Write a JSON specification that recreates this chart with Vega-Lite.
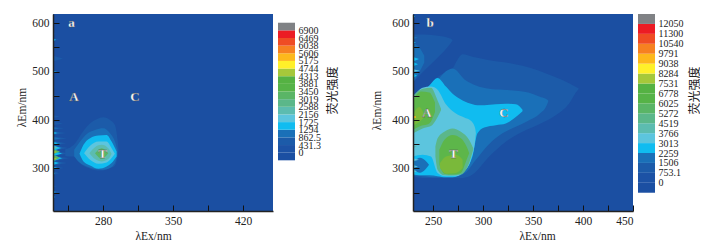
{
"$schema":"https://vega.github.io/schema/vega-lite/v6.json",
"background":"white",
"padding":{"left":16,"top":14,"right":0,"bottom":0},
"config":{"view":{"stroke":null},"axis":{"grid":false,"labelFont":"Liberation Serif","titleFont":"Liberation Serif","labelFontSize":11.5,"titleFontSize":11.5,"titleFontWeight":"normal","labelColor":"#222","titleColor":"#222"}},
"datasets":{
"cbar":[{"s":0,"s2":1,"l":0},{"s":1,"s2":2,"l":1},{"s":2,"s2":3,"l":2},{"s":3,"s2":4,"l":3},{"s":4,"s2":5,"l":4},{"s":5,"s2":6,"l":5},{"s":6,"s2":7,"l":6},{"s":7,"s2":8,"l":7},{"s":8,"s2":9,"l":8},{"s":9,"s2":10,"l":9},{"s":10,"s2":11,"l":10},{"s":11,"s2":12,"l":11},{"s":12,"s2":13,"l":12},{"s":13,"s2":14,"l":13},{"s":14,"s2":15,"l":14},{"s":15,"s2":16,"l":15},{"s":16,"s2":17,"l":16},{"s":17,"s2":18,"l":17}],
"a":[
{"g":"s1","l":2,"x":230,"y":563,"y2":569},{"g":"s1","l":2,"x":236,"y":566,"y2":566},
{"g":"s2","l":2,"x":230,"y":576,"y2":580},{"g":"s2","l":2,"x":233,"y":578,"y2":578},
{"g":"s3","l":2,"x":230,"y":521,"y2":533},{"g":"s3","l":2,"x":240,"y":527,"y2":527},
{"g":"s4","l":2,"x":230,"y":497,"y2":502},{"g":"s4","l":2,"x":236,"y":499,"y2":499},
{"g":"s5","l":2,"x":230,"y":448,"y2":452},{"g":"s5","l":2,"x":238,"y":450,"y2":450},
{"g":"s6","l":2,"x":230,"y":466,"y2":470},{"g":"s6","l":2,"x":233,"y":468,"y2":468},
{"g":"s7","l":2,"x":230,"y":404,"y2":410},{"g":"s7","l":2,"x":237,"y":407,"y2":407},
{"g":"s8","l":2,"x":230,"y":389,"y2":397},{"g":"s8","l":2,"x":240,"y":393,"y2":393},
{"g":"s9","l":2,"x":230,"y":380,"y2":386},{"g":"s9","l":2,"x":241,"y":383,"y2":383},
{"g":"s10","l":2,"x":230,"y":369,"y2":377},{"g":"s10","l":2,"x":243,"y":373,"y2":373},
{"g":"s11","l":2,"x":230,"y":358,"y2":366},{"g":"s11","l":2,"x":244,"y":362,"y2":362},
{"g":"s12","l":2,"x":230,"y":347,"y2":357},{"g":"s12","l":2,"x":243,"y":352,"y2":352},
{"g":"s13","l":2,"x":230,"y":336,"y2":348},{"g":"s13","l":2,"x":245,"y":342,"y2":342},
{"g":"s14","l":2,"x":230,"y":325,"y2":338},{"g":"s14","l":2,"x":245,"y":331,"y2":331},
{"g":"s15","l":2,"x":230,"y":315,"y2":327},{"g":"s15","l":2,"x":246,"y":321,"y2":321},
{"g":"s16","l":2,"x":230,"y":306,"y2":316},{"g":"s16","l":2,"x":244,"y":311,"y2":311},
{"g":"s17","l":2,"x":230,"y":297,"y2":305},{"g":"s17","l":2,"x":241,"y":301,"y2":301},
{"g":"s18","l":2,"x":230,"y":286,"y2":295},{"g":"s18","l":2,"x":236,"y":290,"y2":290},
{"g":"s19","l":2,"x":230,"y":261,"y2":265},{"g":"s19","l":2,"x":234,"y":263,"y2":263},
{"g":"s20","l":2,"x":230,"y":248,"y2":254},{"g":"s20","l":2,"x":238,"y":251,"y2":251},
{"g":"s21","l":2,"x":230,"y":239,"y2":243},{"g":"s21","l":2,"x":234,"y":241,"y2":241},
{"g":"t1","l":3,"x":230,"y":381,"y2":385},{"g":"t1","l":3,"x":236,"y":383,"y2":383},
{"g":"t2","l":3,"x":230,"y":370,"y2":376},{"g":"t2","l":3,"x":237,"y":373,"y2":373},
{"g":"t3","l":3,"x":230,"y":359,"y2":365},{"g":"t3","l":3,"x":238,"y":362,"y2":362},
{"g":"t4","l":3,"x":230,"y":349,"y2":355},{"g":"t4","l":3,"x":239,"y":352,"y2":352},
{"g":"t5","l":3,"x":230,"y":338,"y2":346},{"g":"t5","l":3,"x":240,"y":342,"y2":342},
{"g":"t6","l":3,"x":230,"y":327,"y2":335},{"g":"t6","l":3,"x":241,"y":331,"y2":331},
{"g":"t7","l":3,"x":230,"y":317,"y2":325},{"g":"t7","l":3,"x":241,"y":321,"y2":321},
{"g":"t8","l":3,"x":230,"y":308,"y2":314},{"g":"t8","l":3,"x":239,"y":311,"y2":311},
{"g":"t9","l":3,"x":230,"y":298,"y2":304},{"g":"t9","l":3,"x":235,"y":301,"y2":301},
{"g":"u1","l":4,"x":230,"y":562,"y2":569},{"g":"u1","l":4,"x":233,"y":566,"y2":566},
{"g":"u2","l":4,"x":230,"y":497,"y2":501},{"g":"u2","l":4,"x":234,"y":499,"y2":499},
{"g":"u3","l":4,"x":230,"y":370,"y2":376},{"g":"u3","l":4,"x":234,"y":373,"y2":373},
{"g":"u4","l":4,"x":230,"y":349,"y2":355},{"g":"u4","l":4,"x":235,"y":352,"y2":352},
{"g":"u5","l":4,"x":230,"y":336,"y2":348},{"g":"u5","l":4,"x":238,"y":342,"y2":342},
{"g":"u6","l":4,"x":230,"y":325,"y2":337},{"g":"u6","l":4,"x":239,"y":331,"y2":331},
{"g":"u7","l":4,"x":230,"y":315,"y2":327},{"g":"u7","l":4,"x":239,"y":321,"y2":321},
{"g":"u8","l":4,"x":230,"y":307,"y2":315},{"g":"u8","l":4,"x":236,"y":311,"y2":311},
{"g":"u9","l":4,"x":230,"y":298,"y2":304},{"g":"u9","l":4,"x":234,"y":301,"y2":301},
{"g":"u10","l":4,"x":230,"y":288,"y2":292},{"g":"u10","l":4,"x":232,"y":290,"y2":290},
{"g":"u11","l":4,"x":230,"y":249,"y2":253},{"g":"u11","l":4,"x":233,"y":251,"y2":251},
{"g":"u12","l":4,"x":230,"y":239,"y2":243},{"g":"u12","l":4,"x":232,"y":241,"y2":241},
{"g":"v1","l":6,"x":230,"y":339,"y2":347},{"g":"v1","l":6,"x":235,"y":343,"y2":343},
{"g":"v2","l":8,"x":230,"y":329,"y2":340},{"g":"v2","l":8,"x":237,"y":335,"y2":335},
{"g":"v3","l":8,"x":230,"y":315,"y2":328},{"g":"v3","l":8,"x":237,"y":322,"y2":322},
{"g":"v4","l":11,"x":230,"y":331,"y2":337},{"g":"v4","l":11,"x":234,"y":334,"y2":334},
{"g":"v5","l":11,"x":230,"y":317,"y2":323},{"g":"v5","l":11,"x":234,"y":320,"y2":320},
{"g":"a2","l":2,"x":242.2,"y":326,"y2":339.8},{"g":"a2","l":2,"x":245.5,"y":324.7,"y2":341.8},{"g":"a2","l":2,"x":252.2,"y":324.7,"y2":352.1},{"g":"a2","l":2,"x":258.8,"y":307.6,"y2":372.6},{"g":"a2","l":2,"x":265.4,"y":300.7,"y2":389.8},{"g":"a2","l":2,"x":273.7,"y":295.9,"y2":401.4},{"g":"a2","l":2,"x":280.3,"y":295.9,"y2":405.5},{"g":"a2","l":2,"x":287,"y":300.7,"y2":400},{"g":"a2","l":2,"x":291.9,"y":305.5,"y2":389.8},{"g":"a2","l":2,"x":294.6,"y":324.7,"y2":358.9},{"g":"a2","l":2,"x":295.6,"y":338.4,"y2":338.4},
{"g":"a3","l":3,"x":251.2,"y":324.7,"y2":338.4},{"g":"a3","l":3,"x":257.1,"y":311,"y2":355.5},{"g":"a3","l":3,"x":263.8,"y":304.1,"y2":371.3},{"g":"a3","l":3,"x":272,"y":298.7,"y2":379.5},{"g":"a3","l":3,"x":280.3,"y":297.3,"y2":382.9},{"g":"a3","l":3,"x":287,"y":300.7,"y2":372.6},{"g":"a3","l":3,"x":291.9,"y":311,"y2":355.5},{"g":"a3","l":3,"x":294.3,"y":328.1,"y2":338.4},
{"g":"a4","l":4,"x":256.5,"y":330.2,"y2":330.2},{"g":"a4","l":4,"x":260.5,"y":314.4,"y2":348.7},{"g":"a4","l":4,"x":267.1,"y":306.2,"y2":362.4},{"g":"a4","l":4,"x":275.4,"y":299.4,"y2":367.8},{"g":"a4","l":4,"x":283.6,"y":304.1,"y2":369.2},{"g":"a4","l":4,"x":288.6,"y":311,"y2":355.5},{"g":"a4","l":4,"x":293.6,"y":324.7,"y2":335},
{"g":"a5","l":5,"x":261.1,"y":331.5,"y2":331.5},{"g":"a5","l":5,"x":267.1,"y":317.8,"y2":346.6},{"g":"a5","l":5,"x":275.4,"y":309.6,"y2":355.5},{"g":"a5","l":5,"x":283.6,"y":312.4,"y2":355.5},{"g":"a5","l":5,"x":288.6,"y":321.3,"y2":341.8},{"g":"a5","l":5,"x":291.9,"y":330.2,"y2":330.2},
{"g":"a6","l":6,"x":266.4,"y":331.5,"y2":331.5},{"g":"a6","l":6,"x":272,"y":319.2,"y2":343.9},{"g":"a6","l":6,"x":278.7,"y":314.4,"y2":348.7},{"g":"a6","l":6,"x":285.3,"y":319.2,"y2":341.8},{"g":"a6","l":6,"x":288.6,"y":330.2,"y2":330.2},
{"g":"a7","l":8,"x":272,"y":331.5,"y2":331.5},{"g":"a7","l":8,"x":278.7,"y":319.9,"y2":341.8},{"g":"a7","l":8,"x":285.3,"y":331.5,"y2":331.5}
],
"b":[
{"g":"p2","l":2,"x":230.3,"y":478,"y2":576.8},{"g":"p2","l":2,"x":239.6,"y":498.5,"y2":576.8},{"g":"p2","l":2,"x":253,"y":525.7,"y2":574.8},{"g":"p2","l":2,"x":268,"y":559.8,"y2":568},{"g":"p2","l":2,"x":269.6,"y":564.6,"y2":564.6},
{"g":"p3","l":3,"x":230.3,"y":478,"y2":559.8},{"g":"p3","l":3,"x":236.3,"y":498.5,"y2":549.6},{"g":"p3","l":3,"x":241.3,"y":518.9,"y2":532.5},
{"g":"b2","l":2,"x":230.3,"y":283.8,"y2":437.1},{"g":"b2","l":2,"x":239.6,"y":280.3,"y2":457.6},{"g":"b2","l":2,"x":256.3,"y":280.3,"y2":491.6},{"g":"b2","l":2,"x":269.6,"y":280.3,"y2":506.6},{"g":"b2","l":2,"x":272.9,"y":280.3,"y2":518.9},{"g":"b2","l":2,"x":279.6,"y":280.3,"y2":535.9},{"g":"b2","l":2,"x":289.5,"y":287.2,"y2":530.5},{"g":"b2","l":2,"x":306.2,"y":324.6,"y2":523.7},{"g":"b2","l":2,"x":322.8,"y":355.3,"y2":518.9},{"g":"b2","l":2,"x":339.5,"y":375.8,"y2":512.1},{"g":"b2","l":2,"x":356.1,"y":391.4,"y2":501.9},{"g":"b2","l":2,"x":372.7,"y":409.9,"y2":488.2},{"g":"b2","l":2,"x":386,"y":433.7,"y2":476},{"g":"b2","l":2,"x":394.4,"y":461,"y2":466.4},{"g":"b2","l":2,"x":396,"y":464.4,"y2":464.4},
{"g":"b3","l":3,"x":230.3,"y":285.1,"y2":433.7},{"g":"b3","l":3,"x":239.6,"y":283.8,"y2":452.1},{"g":"b3","l":3,"x":253,"y":281.7,"y2":478},{"g":"b3","l":3,"x":262.9,"y":281.7,"y2":500.5},{"g":"b3","l":3,"x":269.6,"y":281.7,"y2":506.6},{"g":"b3","l":3,"x":282.9,"y":291.9,"y2":481.4},{"g":"b3","l":3,"x":292.9,"y":317.8,"y2":471.2},{"g":"b3","l":3,"x":306.2,"y":350.6,"y2":464.4},{"g":"b3","l":3,"x":319.5,"y":372.4,"y2":462.3},{"g":"b3","l":3,"x":332.8,"y":386,"y2":460.3},{"g":"b3","l":3,"x":346.1,"y":399.6,"y2":456.2},{"g":"b3","l":3,"x":356.1,"y":411.9,"y2":448.7},{"g":"b3","l":3,"x":364.4,"y":433.7,"y2":441.9},{"g":"b3","l":3,"x":365.4,"y":439.2,"y2":439.2},
{"g":"b4","l":4,"x":230.3,"y":287.2,"y2":437.1},{"g":"b4","l":4,"x":236.3,"y":285.8,"y2":450.7},{"g":"b4","l":4,"x":246.3,"y":285.8,"y2":471.2},{"g":"b4","l":4,"x":254.6,"y":283.8,"y2":486.9},{"g":"b4","l":4,"x":262.9,"y":281.7,"y2":469.1},{"g":"b4","l":4,"x":269.6,"y":281.7,"y2":454.2},{"g":"b4","l":4,"x":279.6,"y":291.9,"y2":440.5},{"g":"b4","l":4,"x":289.5,"y":324.6,"y2":432.3},{"g":"b4","l":4,"x":294.5,"y":372.4,"y2":430.3},{"g":"b4","l":4,"x":301.2,"y":384.6,"y2":430.3},{"g":"b4","l":4,"x":312.8,"y":389.4,"y2":432.3},{"g":"b4","l":4,"x":322.8,"y":392.8,"y2":433.7},{"g":"b4","l":4,"x":332.8,"y":406.4,"y2":432.3},{"g":"b4","l":4,"x":339.5,"y":418,"y2":421.4},
{"g":"h3","l":3,"x":231.3,"y":296,"y2":316},{"g":"h3","l":3,"x":237,"y":291,"y2":322},{"g":"h3","l":3,"x":242,"y":297,"y2":317},{"g":"h3","l":3,"x":246,"y":307.6,"y2":307.6},
{"g":"b5","l":5,"x":230.3,"y":324.6,"y2":447.3},{"g":"b5","l":5,"x":239.6,"y":328,"y2":466.4},{"g":"b5","l":5,"x":248,"y":324.6,"y2":469.1},{"g":"b5","l":5,"x":254.6,"y":290.6,"y2":462.3},{"g":"b5","l":5,"x":262.9,"y":283.8,"y2":432.3},{"g":"b5","l":5,"x":272.9,"y":283.8,"y2":413.3},{"g":"b5","l":5,"x":281.2,"y":294,"y2":405.1},{"g":"b5","l":5,"x":287.9,"y":317.8,"y2":398.3},{"g":"b5","l":5,"x":292.2,"y":358.7,"y2":382.6},{"g":"b5","l":5,"x":292.9,"y":372.4,"y2":372.4},
{"g":"a6","l":7,"x":230.3,"y":372.4,"y2":450.7},{"g":"a6","l":7,"x":239.6,"y":382.6,"y2":464.4},{"g":"a6","l":7,"x":248,"y":387.4,"y2":466.4},{"g":"a6","l":7,"x":254.6,"y":406.4,"y2":440.5},{"g":"a6","l":7,"x":258,"y":420,"y2":423.5},
{"g":"t6","l":7,"x":252.4,"y":324.6,"y2":345},{"g":"t6","l":7,"x":254.6,"y":297.4,"y2":362.1},{"g":"t6","l":7,"x":261.3,"y":285.8,"y2":375.8},{"g":"t6","l":7,"x":269.6,"y":285.1,"y2":382.6},{"g":"t6","l":7,"x":277.9,"y":287.2,"y2":375.8},{"g":"t6","l":7,"x":286.2,"y":311,"y2":358.7},{"g":"t6","l":7,"x":290.2,"y":338.3,"y2":341.7},
{"g":"a7","l":9,"x":230.3,"y":380,"y2":442},{"g":"a7","l":9,"x":238,"y":388,"y2":459},{"g":"a7","l":9,"x":246.3,"y":393,"y2":457},{"g":"a7","l":9,"x":252,"y":416.7,"y2":436},
{"g":"t7","l":9,"x":256.3,"y":307.6,"y2":338.3},{"g":"t7","l":9,"x":261.3,"y":289.2,"y2":358.7},{"g":"t7","l":9,"x":269.6,"y":287.2,"y2":369},{"g":"t7","l":9,"x":277.9,"y":290.6,"y2":362.1},{"g":"t7","l":9,"x":283.6,"y":317.8,"y2":345},{"g":"t7","l":9,"x":286.2,"y":331.5,"y2":331.5},
{"g":"t8","l":10,"x":257,"y":300.8,"y2":311},{"g":"t8","l":10,"x":263,"y":289,"y2":324.6},{"g":"t8","l":10,"x":273,"y":290.6,"y2":328},{"g":"t8","l":10,"x":279.6,"y":300.8,"y2":317.8},
{"g":"a8","l":10,"x":230.3,"y":389.4,"y2":413.3},{"g":"a8","l":10,"x":236.3,"y":396,"y2":427},{"g":"a8","l":10,"x":241.3,"y":406.4,"y2":409.9},
{"g":"dot","l":13,"x":230.5,"y":403,"y2":409},{"g":"dot","l":13,"x":233,"y":405,"y2":407},
{"g":"k1","l":4,"x":230,"y":610,"y2":618},{"g":"k1","l":4,"x":232,"y":614,"y2":614},
{"g":"k2","l":3,"x":230,"y":567,"y2":573},{"g":"k2","l":3,"x":235,"y":570,"y2":570},
{"g":"k3","l":4,"x":230,"y":558,"y2":562},{"g":"k3","l":4,"x":233,"y":560,"y2":560},
{"g":"k4","l":4,"x":230,"y":521,"y2":530},{"g":"k4","l":4,"x":236,"y":526,"y2":526},
{"g":"k5","l":4,"x":230,"y":511,"y2":520},{"g":"k5","l":4,"x":235,"y":515,"y2":515},
{"g":"k6","l":5,"x":230,"y":499,"y2":505},{"g":"k6","l":5,"x":237,"y":502,"y2":502},
{"g":"k7","l":4,"x":230,"y":487,"y2":496},{"g":"k7","l":4,"x":234,"y":492,"y2":492},
{"g":"k8","l":6,"x":230,"y":342,"y2":348},{"g":"k8","l":6,"x":234,"y":345,"y2":345},
{"g":"k9","l":5,"x":230,"y":315,"y2":321},{"g":"k9","l":5,"x":236,"y":318,"y2":318},
{"g":"k10","l":5,"x":230,"y":301,"y2":307},{"g":"k10","l":5,"x":235,"y":304,"y2":304},
{"g":"k11","l":5,"x":230,"y":291,"y2":297},{"g":"k11","l":5,"x":234,"y":294,"y2":294},
{"g":"k12","l":6,"x":230,"y":288,"y2":293},{"g":"k12","l":6,"x":232,"y":290,"y2":290}
]
},
"hconcat":[
{"width":220,"height":197,"view":{"fill":"#1b4fa2","stroke":null},
"encoding":{
"x":{"field":"x","type":"quantitative","scale":{"domain":[230,450],"nice":false,"zero":false},"axis":{"title":"λEx/nm","values":[245,280,315,350,385,420],"labelExpr":"datum.value==280||datum.value==350||datum.value==420?datum.label:''","labelOverlap":false,"tickSize":-6,"labelPadding":10,"tickColor":"#111","tickWidth":1,"domainColor":"#222","domainWidth":1.5,"zindex":1,"titleX":100,"titleY":19}},
"y":{"field":"y","type":"quantitative","scale":{"domain":[212,619],"nice":false,"zero":false},"axis":{"title":"λEm/nm","values":[250,300,350,400,450,500,550,600],"labelExpr":"datum.value%100==0?datum.label:''","labelOverlap":false,"tickSize":-6,"labelPadding":10,"tickColor":"#111","tickWidth":1,"domainColor":"#222","domainWidth":1.5,"zindex":1,"titleX":-26,"titleY":93}}},
"layer":[
{"data":{"name":"a"},"mark":{"type":"area","clip":true,"interpolate":"monotone"},"encoding":{"y2":{"field":"y2"},"detail":{"field":"g"},"color":{"field":"l","type":"nominal","legend":null,"scale":{"domain":[0,1,2,3,4,5,6,7,8,9,10,11,12,13,14,15,16,17],"range":["#1b4fa2","#1c52a5","#1c5ba9","#1a70b8","#10bcf0","#5cc5de","#5cbcb0","#5bb78a","#5ab566","#5db64a","#7ab93a","#a6c83a","#fff02a","#fdb81c","#f68121","#ef4c24","#ec1c24","#808285"]}}}},
{"data":{"values":[{"x":248.5,"y":600,"t":"a"},{"x":251,"y":447,"t":"A"},{"x":312,"y":447,"t":"C"},{"x":279.5,"y":330,"t":"T"}]},"mark":{"type":"text","font":"Liberation Serif","fontWeight":"bold","fontSize":13,"fill":"#fff","stroke":"#555","strokeWidth":0.3},"encoding":{"text":{"field":"t"}}}
]},
{"width":17,"height":197,"data":{"name":"cbar"},"mark":"rect","encoding":{
"y":{"field":"s","type":"quantitative","scale":{"domain":[-6.63,19.14],"nice":false,"zero":false},"axis":{"orient":"right","domain":false,"ticks":false,"labelPadding":3,"labelFontSize":10,"labelOverlap":false,"values":[1,2,3,4,5,6,7,8,9,10,11,12,13,14,15,16,17],"labelExpr":"['0','431.3','862.5','1294','1725','2156','2588','3019','3450','3881','4313','4744','5175','5606','6038','6469','6900'][datum.value-1]","title":"荧光强度","titleFont":"Noto Sans CJK SC","titleFontSize":12,"titleAngle":270,"titleX":44,"titleY":76}},
"y2":{"field":"s2"},
"color":{"field":"l","type":"nominal","legend":null,"scale":{"domain":[0,1,2,3,4,5,6,7,8,9,10,11,12,13,14,15,16,17],"range":["#1b4fa2","#1c52a5","#1c5ba9","#1a70b8","#10bcf0","#5cc5de","#5cbcb0","#5bb78a","#5ab566","#56b347","#55b243","#a6c83a","#fff02a","#fdb81c","#f68121","#ef4c24","#ec1c24","#808285"]}}}},
{"width":108,"height":197,"data":{"values":[]},"mark":"rect","encoding":{}},
{"width":220,"height":197,"view":{"fill":"#1b4fa2","stroke":null},
"encoding":{
"x":{"field":"x","type":"quantitative","scale":{"domain":[230,450],"nice":false,"zero":false},"axis":{"title":"λEx/nm","values":[250,275,300,325,350,375,400,425,450],"labelExpr":"datum.value%50==0?datum.label:''","labelOverlap":false,"tickSize":-6,"labelPadding":10,"tickColor":"#111","tickWidth":1,"domainColor":"#222","domainWidth":1.5,"zindex":1,"titleX":124,"titleY":19}},
"y":{"field":"y","type":"quantitative","scale":{"domain":[212,619],"nice":false,"zero":false},"axis":{"title":"λEm/nm","values":[250,300,350,400,450,500,550,600],"labelExpr":"datum.value%100==0?datum.label:''","labelOverlap":false,"tickSize":-6,"labelPadding":10,"tickColor":"#111","tickWidth":1,"domainColor":"#222","domainWidth":1.5,"zindex":1,"titleX":-31,"titleY":96}}},
"layer":[
{"data":{"name":"b"},"mark":{"type":"area","clip":true,"interpolate":"monotone"},"encoding":{"y2":{"field":"y2"},"detail":{"field":"g"},"color":{"field":"l","type":"nominal","legend":null,"scale":{"domain":[0,1,2,3,4,5,6,7,8,9,10,11,12,13,14,15,16,17],"range":["#1b4fa2","#1c52a5","#1c5ba9","#1a70b8","#10bcf0","#5cc5de","#5cbcb0","#5bb78a","#5ab566","#5db64a","#7ab93a","#a6c83a","#fff02a","#fdb81c","#f68121","#ef4c24","#ec1c24","#808285"]}}}},
{"data":{"values":[{"x":247,"y":600,"t":"b"},{"x":244,"y":414,"t":"A"},{"x":321,"y":414,"t":"C"},{"x":270.6,"y":330,"t":"T"}]},"mark":{"type":"text","font":"Liberation Serif","fontWeight":"bold","fontSize":13,"fill":"#fff","stroke":"#555","strokeWidth":0.3},"encoding":{"text":{"field":"t"}}}
]},
{"width":17,"height":197,"data":{"name":"cbar"},"mark":"rect","encoding":{
"y":{"field":"s","type":"quantitative","scale":{"domain":[-1.84,18],"nice":false,"zero":false},"axis":{"orient":"right","domain":false,"ticks":false,"labelPadding":3,"labelFontSize":10,"labelOverlap":false,"values":[1,2,3,4,5,6,7,8,9,10,11,12,13,14,15,16,17],"labelExpr":"['0','753.1','1506','2259','3013','3766','4519','5272','6025','6778','7531','8284','9038','9791','10540','11300','12050'][datum.value-1]","title":"荧光强度","titleFont":"Noto Sans CJK SC","titleFontSize":12,"titleAngle":270,"titleX":46,"titleY":76}},
"y2":{"field":"s2"},
"color":{"field":"l","type":"nominal","legend":null,"scale":{"domain":[0,1,2,3,4,5,6,7,8,9,10,11,12,13,14,15,16,17],"range":["#1b4fa2","#1c52a5","#1c5ba9","#1a70b8","#10bcf0","#5cc5de","#5cbcb0","#5bb78a","#5ab566","#56b347","#55b243","#a6c83a","#fff02a","#fdb81c","#f68121","#ef4c24","#ec1c24","#808285"]}}}}
],
"bounds":"flush",
"spacing":5,
"resolve":{"scale":{"color":"independent","x":"independent","y":"independent"}}
}
